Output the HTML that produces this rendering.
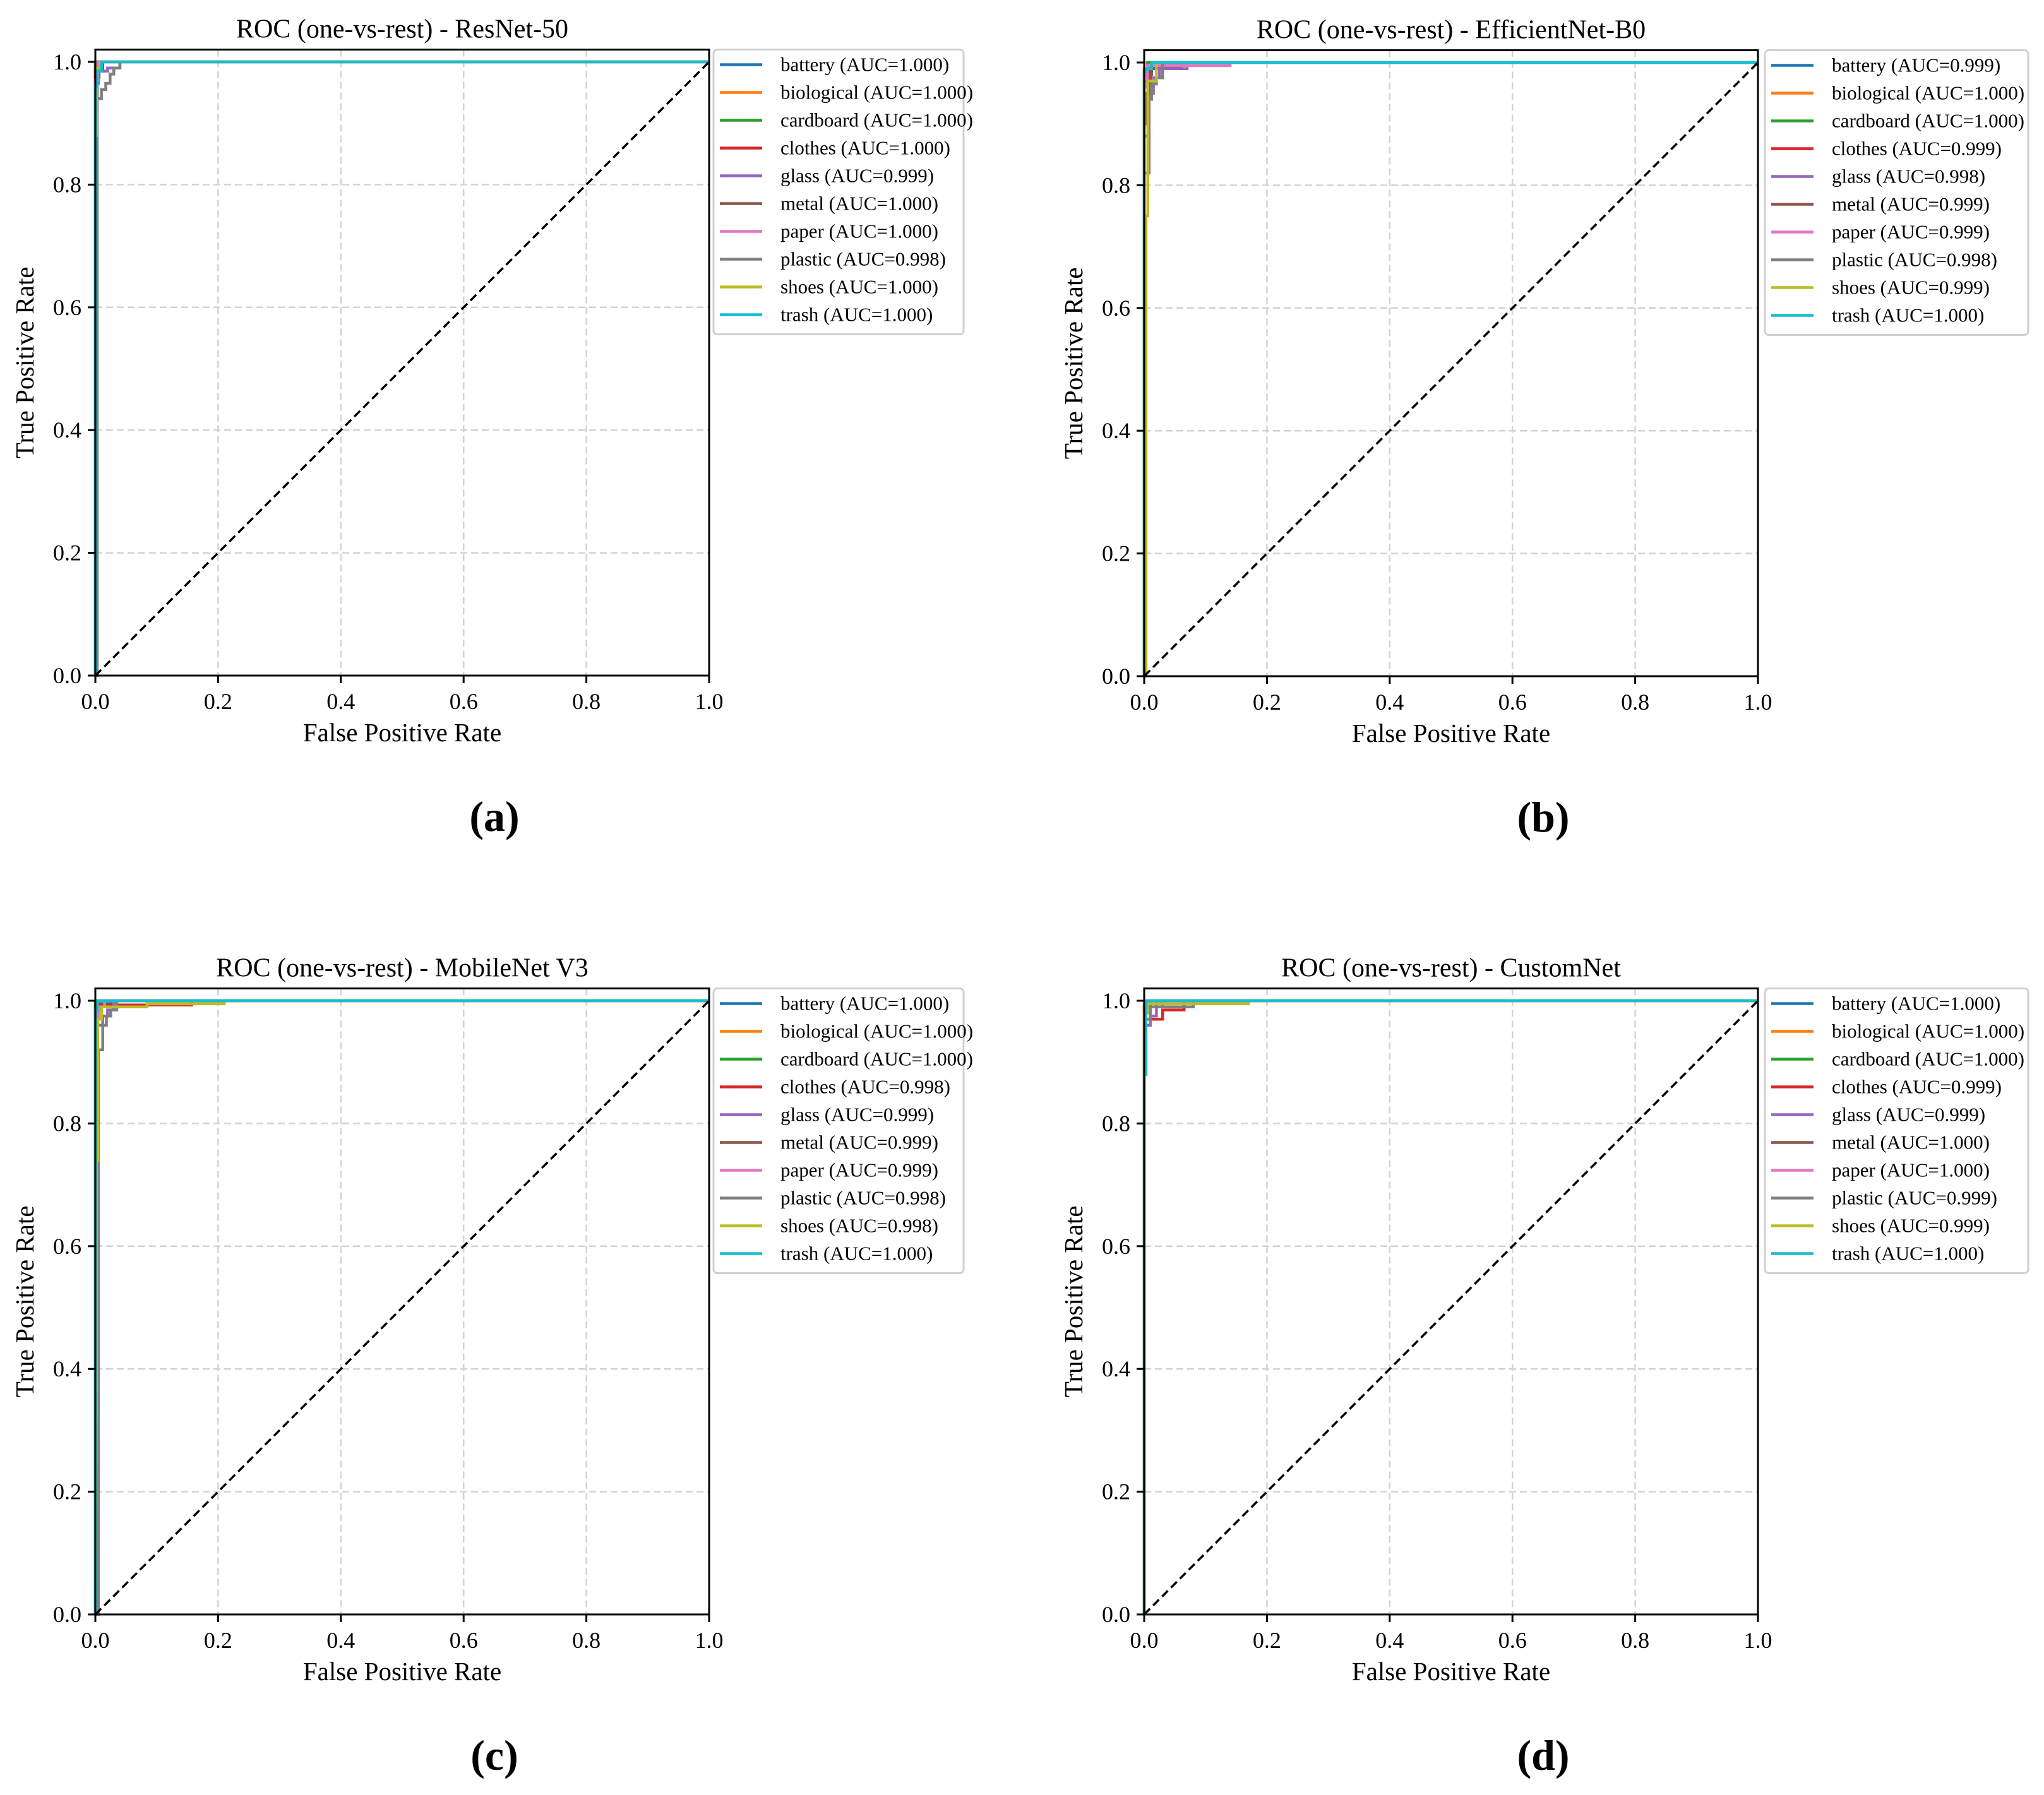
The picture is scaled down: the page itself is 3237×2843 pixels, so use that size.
<!DOCTYPE html>
<html><head><meta charset="utf-8">
<style>
html,body{margin:0;padding:0;background:#fff;}
svg{display:block;}
text{font-family:"Liberation Serif",serif;fill:#000;}
</style></head>
<body>
<svg id="fig" xmlns="http://www.w3.org/2000/svg" width="3237" height="2843" viewBox="0 0 3237 2843"></svg>
<script>
const classNames = ["battery","biological","cardboard","clothes","glass","metal","paper","plastic","shoes","trash"];
const colors = ["#1f77b4","#ff7f0e","#2ca02c","#d62728","#9467bd","#8c564b","#e377c2","#7f7f7f","#bcbd22","#17becf"];
const xTicks = [0,0.2,0.4,0.6,0.8,1.0];
const yTicks = [0,0.2,0.4,0.6,0.8,1.0];
const tickLabels = ["0.0","0.2","0.4","0.6","0.8","1.0"];
const panelTitles = ["ROC (one-vs-rest) - ResNet-50","ROC (one-vs-rest) - EfficientNet-B0","ROC (one-vs-rest) - MobileNet V3","ROC (one-vs-rest) - CustomNet"];
const panelLetters = ["(a)","(b)","(c)","(d)"];

const aucA = ["1.000","1.000","1.000","1.000","0.999","1.000","1.000","0.998","1.000","1.000"];
const aucB = ["0.999","1.000","1.000","0.999","0.998","0.999","0.999","0.998","0.999","1.000"];
const aucC = ["1.000","1.000","1.000","0.998","0.999","0.999","0.999","0.998","0.998","1.000"];
const aucD = ["1.000","1.000","1.000","0.999","0.999","1.000","1.000","0.999","0.999","1.000"];

const fprA = [
 [0,0,0.004,0.004,1],[0,0,0.002,0.002,1],[0,0,1],[0,0,0.012,0.012,1],
 [0,0,0.005,0.005,0.02,0.02,0.04,0.04,1],[0,0,0.003,0.003,0.006,0.006,1],[0,0,0.004,0.004,1],
 [0,0.003,0.003,0.01,0.01,0.017,0.017,0.024,0.024,0.03,0.03,0.04,0.04,1],
 [0,0,0.002,0.002,0.008,0.008,1],[0,0,0.003,0.003,0.01,0.01,1]];
const tprA = [
 [0,0.99,0.99,1,1],[0,0.995,0.995,1,1],[0,1,1],[0,0.985,0.985,1,1],
 [0,0.965,0.965,0.985,0.985,0.99,0.99,1,1],[0,0.93,0.93,0.975,0.975,1,1],[0,0.97,0.97,1,1],
 [0,0,0.94,0.94,0.955,0.955,0.965,0.965,0.98,0.98,0.99,0.99,1,1],
 [0,0.88,0.88,0.99,0.99,1,1],[0,0.96,0.96,0.985,0.985,1,1]];

const fprB = [
 [0,0,0.01,0.01,0.053,0.053,1],[0,0,0.005,0.005,1],[0,0,0.006,0.006,1],[0,0,0.01,0.01,0.06,0.06,1],
 [0,0,0.008,0.008,0.015,0.015,0.025,0.025,0.07,0.07,1],[0,0,0.003,0.003,0.008,0.008,0.012,0.012,1],
 [0,0,0.005,0.005,0.14,0.14,1],[0,0,0.006,0.006,0.012,0.012,0.02,0.02,0.03,0.03,1],
 [0,0.003,0.003,0.006,0.006,0.02,0.02,1],[0,0,0.003,0.003,0.012,0.012,1]];
const tprB = [
 [0,0.97,0.97,0.99,0.99,1,1],[0,0.99,0.99,1,1],[0,0.985,0.985,1,1],[0,0.96,0.96,0.993,0.993,1,1],
 [0,0.82,0.82,0.95,0.95,0.975,0.975,0.99,0.99,1,1],[0,0.9,0.9,0.95,0.95,0.98,0.98,1,1],
 [0,0.96,0.96,0.995,0.995,1,1],[0,0.88,0.88,0.94,0.94,0.965,0.965,0.975,0.975,1,1],
 [0,0,0.75,0.75,0.97,0.97,1,1],[0,0.985,0.985,0.99,0.99,1,1]];

const fprC = [
 [0,0,0.025,0.025,1],[0,0,0.005,0.005,1],[0,0,0.006,0.006,1],[0,0,0.005,0.005,0.157,0.157,1],
 [0,0,0.012,0.012,0.02,0.02,0.03,0.03,1],[0,0,0.003,0.003,1],[0,0,0.005,0.005,0.015,0.015,1],
 [0,0.005,0.005,0.012,0.012,0.018,0.018,0.025,0.025,0.035,0.035,1],
 [0,0.002,0.002,0.004,0.004,0.01,0.01,0.084,0.084,0.21,0.21,1],[0,0,0.003,0.003,1]];
const tprC = [
 [0,0.995,0.995,1,1],[0,0.985,0.985,1,1],[0,0.998,0.998,1,1],[0,0.985,0.985,0.993,0.993,1,1],
 [0,0.96,0.96,0.975,0.975,0.985,0.985,1,1],[0,0.97,0.97,1,1],[0,0.97,0.97,0.99,0.99,1,1],
 [0,0,0.92,0.92,0.96,0.96,0.975,0.975,0.985,0.985,1,1],
 [0,0.4,0.74,0.74,0.97,0.97,0.99,0.99,0.995,0.995,1,1],[0,0.985,0.985,1,1]];

const fprD = [
 [0,0,0.01,0.01,1],[0,0,0.004,0.004,1],[0,0,0.006,0.006,1],[0,0,0.03,0.03,0.065,0.065,1],
 [0,0,0.01,0.01,0.02,0.02,0.03,0.03,1],[0,0,0.02,0.02,1],[0,0,0.005,0.005,1],
 [0,0,0.01,0.01,0.08,0.08,1],[0,0,0.005,0.005,0.17,0.17,1],[0,0,0.003,0.003,1]];
const tprD = [
 [0,0.99,0.99,1,1],[0,0.995,0.995,1,1],[0,0.99,0.99,1,1],[0,0.97,0.97,0.985,0.985,1,1],
 [0,0.96,0.96,0.975,0.975,0.99,0.99,1,1],[0,0.99,0.99,1,1],[0,0.99,0.99,1,1],
 [0,0.97,0.97,0.99,0.99,1,1],[0,0.98,0.98,0.995,0.995,1,1],[0,0.88,0.88,1,1]];

const NS = "http://www.w3.org/2000/svg";
const svg = document.getElementById("fig");
function mk(tag, attrs, parent){
  const e = document.createElementNS(NS, tag);
  for (const k in attrs) e.setAttribute(k, attrs[k]);
  (parent||svg).appendChild(e);
  return e;
}
const layout = [
  {x0:151, y0:1070, lx:1130, lw:396},
  {x0:1812, y0:1071, lx:2795, lw:417},
  {x0:151, y0:2557, lx:1130, lw:396},
  {x0:1812, y0:2557, lx:2795, lw:417}
];
const allF = [fprA,fprB,fprC,fprD];
const allT = [tprA,tprB,tprC,tprD];
const allAuc = [aucA,aucB,aucC,aucD];
const S = 972;

layout.forEach((L, p) => {
  const g = mk("g", {});
  
  
  const sx = v => L.x0 + v*S;
  const sy = v => L.y0 - v*S;
  const top = L.y0 - 1.02*S;
  const right = sx(1);
  xTicks.forEach((v,i) => {
    if (v===0) return;
    const ln = mk("line",{x1:sx(v),x2:sx(v),y1:top,y2:L.y0,stroke:"#d3d3d3","stroke-width":2.5,"stroke-dasharray":"11,6"},g);
    
    
  });
  yTicks.forEach((v,i) => {
    if (v===0) return;
    const ln = mk("line",{x1:L.x0,x2:right,y1:sy(v),y2:sy(v),stroke:"#d3d3d3","stroke-width":2.5,"stroke-dasharray":"11,6"},g);
    
    
  });
  const F = allF[p], T = allT[p];
  F.forEach((fs, c) => {
    let d = "";
    fs.forEach((f,k) => { d += (k?"L":"M") + sx(f).toFixed(1) + "," + sy(T[c][k]).toFixed(1); });
    const path = mk("path",{d:d,fill:"none",stroke:colors[c],"stroke-width":4.5,"stroke-linejoin":"miter"},g);
    
    
  });
  const diag = mk("line",{x1:sx(0),y1:sy(0),x2:sx(1),y2:sy(1),stroke:"#000","stroke-width":3.5,"stroke-dasharray":"13,7"},g);
  
  
  const frame = mk("rect",{x:L.x0,y:top,width:S,height:L.y0-top,fill:"none",stroke:"#000","stroke-width":3},g);
  
  
  xTicks.forEach((v,i) => {
    const t = mk("line",{x1:sx(v),x2:sx(v),y1:L.y0,y2:L.y0+12,stroke:"#000","stroke-width":3},g);
    
    
    const lb = mk("text",{x:sx(v),y:L.y0+53,"font-size":36,"text-anchor":"middle"},g);
    lb.textContent = tickLabels[i];
    
    
  });
  yTicks.forEach((v,i) => {
    const t = mk("line",{x1:L.x0-12,x2:L.x0,y1:sy(v),y2:sy(v),stroke:"#000","stroke-width":3},g);
    
    
    const lb = mk("text",{x:L.x0-22,y:sy(v)+12,"font-size":36,"text-anchor":"end"},g);
    lb.textContent = tickLabels[i];
    
    
  });
  const cx = L.x0 + S/2;
  const title = mk("text",{x:cx,y:top-19,"font-size":42,"text-anchor":"middle"},g);
  title.textContent = panelTitles[p];
  
  
  const xl = mk("text",{x:cx,y:L.y0+104,"font-size":41,"text-anchor":"middle"},g);
  xl.textContent = "False Positive Rate";
  
  
  const ymid = (top+L.y0)/2;
  const yl = mk("text",{x:L.x0-98,y:ymid,"font-size":41,"text-anchor":"middle",transform:"rotate(-90 "+(L.x0-98)+" "+ymid+")"},g);
  yl.textContent = "True Positive Rate";
  
  
  const letter = mk("text",{x:L.x0+632,y:L.y0+246,"font-size":68,"font-weight":"bold","text-anchor":"middle"},g);
  letter.textContent = panelLetters[p];
  
  
  const lg = mk("g",{},g);
  
  
  const box = mk("rect",{x:L.lx,y:top,width:L.lw,height:451,rx:6,fill:"#fff",stroke:"#d0d0d0","stroke-width":3},lg);
  
  
  classNames.forEach((n,c) => {
    const yy = top + 24 + c*44;
    const h = mk("line",{x1:L.lx+10,x2:L.lx+77,y1:yy,y2:yy,stroke:colors[c],"stroke-width":4.5},lg);
    
    
    const tx = mk("text",{x:L.lx+106,y:yy+10,"font-size":31},lg);
    tx.textContent = n + " (AUC=" + allAuc[p][c] + ")";
    
    
  });
});
</script>
</body></html>
